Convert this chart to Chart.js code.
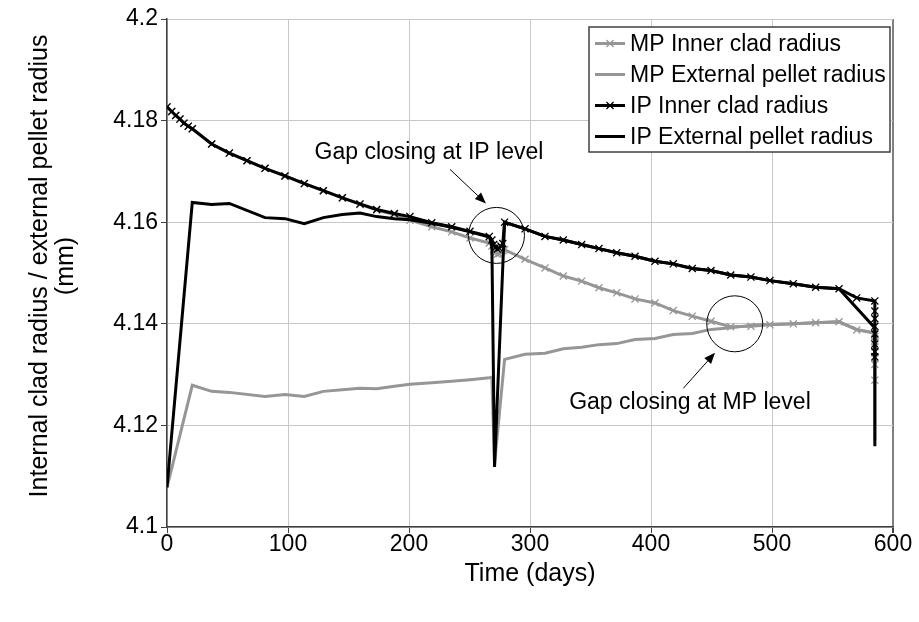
<!DOCTYPE html>
<html><head><meta charset="utf-8">
<script src="https://cdn.jsdelivr.net/npm/chart.js@4.4.0/dist/chart.umd.min.js"></script>
<style>html,body{margin:0;padding:0;background:#fff;}</style>
</head><body>
<canvas id="c" width="919" height="622"></canvas>
<script>
// ---- data ----
const seriesLabels = ['MP Inner clad radius', 'MP External pellet radius', 'IP Inner clad radius', 'IP External pellet radius'];

const xTickLabels = ['0', '100', '200', '300', '400', '500', '600'];
const yTickLabels = ['4.1', '4.12', '4.14', '4.16', '4.18', '4.2'];
const xTitle = 'Time (days)';
const yTitleLines = ['Internal clad radius / external pellet radius', '(mm)'];

// time points (days) of the clad series (with markers)
const timeClad = [0, 3.9, 7.2, 10.7, 14, 17.6, 20.9, 36.9, 51.5, 66.1, 81, 97.5, 113.5, 129.2, 144.9, 159.5, 173.3, 187.9,
  200.8, 218.8, 235.3, 250.4, 266.4, 268.5, 270, 271.5, 273, 274.5, 276, 277.5, 279,
  295.9, 312.4, 327.5, 342.7, 357, 371.7, 386.8, 403.3, 418.4, 434.1, 449.6, 465.9, 482.6, 498.3, 517.6, 536.1, 555.4, 570,
  585, 585, 585, 585, 585, 585, 585, 585];

const mpInnerClad = [4.1827, 4.1818, 4.1810, 4.1803, 4.1795, 4.1789, 4.1784, 4.1754, 4.1736, 4.1721, 4.1706, 4.1691, 4.1676, 4.1662, 4.1648, 4.1635, 4.1624, 4.1615,
  4.1604, 4.1591, 4.1581, 4.1569, 4.1559, 4.1553, 4.1546, 4.1540, 4.1537, 4.1538, 4.1541, 4.1544, 4.1546,
  4.1527, 4.1510, 4.1494, 4.1484, 4.1471, 4.1461, 4.1449, 4.1441, 4.1426, 4.1415, 4.1405, 4.1394, 4.1395, 4.1398, 4.1400, 4.1402, 4.1404, 4.1388,
  4.1382, 4.1375, 4.1365, 4.1355, 4.1345, 4.1332, 4.1320, 4.1289];

const ipInnerClad = [4.1827, 4.1818, 4.1810, 4.1803, 4.1795, 4.1789, 4.1784, 4.1754, 4.1736, 4.1721, 4.1706, 4.1691, 4.1676, 4.1662, 4.1648, 4.1636, 4.1625, 4.1617,
  4.1611, 4.1599, 4.1591, 4.1582, 4.1572, 4.1565, 4.1556, 4.1550, 4.1547, 4.1549, 4.1553, 4.1558, 4.1600,
  4.1587, 4.1572, 4.1565, 4.1556, 4.1548, 4.1540, 4.1533, 4.1523, 4.1518, 4.1509, 4.1505, 4.1496, 4.1492, 4.1485, 4.1479, 4.1472, 4.1469, 4.1451,
  4.1445, 4.1425, 4.1410, 4.1395, 4.1380, 4.1360, 4.1345, 4.1335];

// time points (days) of the pellet series (no markers)
const timeMPPellet = [0, 20.9, 36.9, 51.5, 81, 97.5, 113.5, 129.2, 144.9, 159.5, 173.3, 187.9, 200.8, 218.8, 235.3, 250.4, 266.4, 268.5, 270.7, 279,
  295.9, 312.4, 327.5, 342.7, 357, 371.7, 386.8, 403.3, 418.4, 434.1, 449.6, 465.9, 482.6, 498.3, 517.6, 536.1, 555.4, 570, 585, 585];
const mpPellet = [4.1078, 4.1279, 4.1267, 4.1265, 4.1257, 4.1261, 4.1257, 4.1267, 4.1270, 4.1273, 4.1272, 4.1277, 4.1281, 4.1284, 4.1287, 4.1290, 4.1294, 4.1295, 4.1125, 4.1330,
  4.1340, 4.1342, 4.1351, 4.1354, 4.1359, 4.1361, 4.1369, 4.1371, 4.1379, 4.1381, 4.1389, 4.1392, 4.1397, 4.1399, 4.1400, 4.1402, 4.1404, 4.1389, 4.1382, 4.1170];

const timeIPPellet = [0, 20.9, 36.9, 51.5, 81, 97.5, 113.5, 129.2, 144.9, 159.5, 173.3, 187.9, 200.8, 218.8, 235.3, 250.4, 266.4, 268.5, 270.7, 279,
  295.9, 312.4, 327.5, 342.7, 357, 371.7, 386.8, 403.3, 418.4, 434.1, 449.6, 465.9, 482.6, 498.3, 517.6, 536.1, 555.4, 585, 585];
const ipPellet = [4.1078, 4.1639, 4.1635, 4.1637, 4.1609, 4.1607, 4.1597, 4.1609, 4.1615, 4.1618, 4.1611, 4.1607, 4.1605, 4.1598, 4.1590, 4.1581, 4.1571, 4.1553, 4.1118, 4.1600,
  4.1587, 4.1572, 4.1565, 4.1556, 4.1548, 4.1540, 4.1533, 4.1523, 4.1518, 4.1509, 4.1505, 4.1496, 4.1492, 4.1485, 4.1479, 4.1472, 4.1469, 4.1392, 4.1159];

// annotations: text, text anchor (days, mm), circle centre (days, mm), arrow start / end (days, mm)
const annotationTexts = ['Gap closing at IP level', 'Gap closing at MP level'];
const annotationTextAt = [[216.5, 4.1737], [432.2, 4.1244]];
const annotationCircleAt = [[272.3, 4.1574], [469.2, 4.1400]];
const annotationArrowFrom = [[233.9, 4.1704], [426.7, 4.1273]];
const annotationArrowTo = [[263.6, 4.1637], [452.9, 4.1343]];

// ---- chart ----
const FONT = "'Liberation Sans', Arial, Helvetica, sans-serif";
const GRAY = '#969696';
const pts = (xs, ys) => xs.map((x, i) => ({x: x, y: ys[i]}));

const datasets = [
  {label: seriesLabels[0], data: pts(timeClad, mpInnerClad), borderColor: GRAY, borderWidth: 3,
   pointStyle: 'crossRot', pointRadius: 5, pointBorderColor: GRAY, pointBorderWidth: 1.3, order: 4},
  {label: seriesLabels[1], data: pts(timeMPPellet, mpPellet), borderColor: GRAY, borderWidth: 3,
   pointRadius: 0, order: 3},
  {label: seriesLabels[2], data: pts(timeClad, ipInnerClad), borderColor: '#000', borderWidth: 3,
   pointStyle: 'crossRot', pointRadius: 5, pointBorderColor: '#000', pointBorderWidth: 1.3, order: 2},
  {label: seriesLabels[3], data: pts(timeIPPellet, ipPellet), borderColor: '#000', borderWidth: 3,
   pointRadius: 0, order: 1}
];

const overlay = {
  id: 'overlay',
  afterDatasetsDraw(chart) {
    const ctx = chart.ctx, xs = chart.scales.x, ys = chart.scales.y;
    ctx.save();
    // annotations
    ctx.strokeStyle = '#000'; ctx.fillStyle = '#000'; ctx.lineWidth = 1;
    for (let i = 0; i < annotationTexts.length; i++) {
      const cx = xs.getPixelForValue(annotationCircleAt[i][0]), cy = ys.getPixelForValue(annotationCircleAt[i][1]);
      ctx.beginPath(); ctx.arc(cx, cy, 28, 0, Math.PI * 2); ctx.stroke();
      const x1 = xs.getPixelForValue(annotationArrowFrom[i][0]), y1 = ys.getPixelForValue(annotationArrowFrom[i][1]);
      const x2 = xs.getPixelForValue(annotationArrowTo[i][0]), y2 = ys.getPixelForValue(annotationArrowTo[i][1]);
      const a = Math.atan2(y2 - y1, x2 - x1), L = 11, W = 4.5;
      const bx = x2 - L * Math.cos(a), by = y2 - L * Math.sin(a);
      ctx.beginPath(); ctx.moveTo(x1, y1); ctx.lineTo(bx, by); ctx.stroke();
      ctx.beginPath(); ctx.moveTo(x2, y2);
      ctx.lineTo(bx + W * Math.sin(a), by - W * Math.cos(a));
      ctx.lineTo(bx - W * Math.sin(a), by + W * Math.cos(a));
      ctx.closePath(); ctx.fill();
      ctx.font = '23px ' + FONT; ctx.textAlign = 'center'; ctx.textBaseline = 'middle';
      ctx.fillText(annotationTexts[i], xs.getPixelForValue(annotationTextAt[i][0]), ys.getPixelForValue(annotationTextAt[i][1]));
    }
    // legend
    const lx = 589, ly = 27, lw = 301, lh = 125;
    ctx.fillStyle = '#fff'; ctx.fillRect(lx, ly, lw, lh);
    ctx.strokeStyle = '#404040'; ctx.lineWidth = 1.5; ctx.strokeRect(lx, ly, lw, lh);
    ctx.font = '23px ' + FONT; ctx.textAlign = 'left'; ctx.textBaseline = 'middle';
    chart.data.datasets.forEach((ds, i) => {
      const y = ly + 16.5 + i * 31;
      ctx.strokeStyle = ds.borderColor; ctx.lineWidth = 3;
      ctx.beginPath(); ctx.moveTo(lx + 6, y); ctx.lineTo(lx + 36, y); ctx.stroke();
      if (ds.pointRadius > 0) {
        const r = ds.pointRadius * Math.SQRT1_2;
        ctx.lineWidth = 1.3;
        ctx.beginPath();
        ctx.moveTo(lx + 21 - r, y - r); ctx.lineTo(lx + 21 + r, y + r);
        ctx.moveTo(lx + 21 - r, y + r); ctx.lineTo(lx + 21 + r, y - r);
        ctx.stroke();
      }
      ctx.fillStyle = '#000';
      ctx.fillText(ds.label, lx + 41, y + 1);
    });
    ctx.restore();
  },
  afterDraw(chart) {
    // y-axis title (two centred lines, rotated)
    const ctx = chart.ctx;
    ctx.save();
    ctx.translate(40, 266);
    ctx.rotate(-Math.PI / 2);
    ctx.font = '25px ' + FONT; ctx.fillStyle = '#000';
    ctx.textAlign = 'center'; ctx.textBaseline = 'middle';
    yTitleLines.forEach((t, i) => ctx.fillText(t, 0, i * 26));
    ctx.restore();
  }
};

new Chart(document.getElementById('c'), {
  type: 'line',
  data: {datasets: datasets},
  options: {
    responsive: false, animation: false, devicePixelRatio: 1,
    layout: {padding: {top: 19, right: 26, bottom: 0, left: 0}},
    plugins: {legend: {display: false}, tooltip: {enabled: false}},
    elements: {line: {tension: 0}},
    scales: {
      x: {
        type: 'linear', min: 0, max: 600,
        afterFit: s => { s.height = 95; },
        ticks: {stepSize: 100, color: '#000', font: {family: FONT, size: 23}, padding: -2, maxRotation: 0,
          callback: (v) => xTickLabels[Math.round(v / 100)]},
        grid: {
          color: c => (c.tick && c.tick.value === 600) ? '#808080' : '#c8c8c8',
          lineWidth: c => (c.tick && c.tick.value === 600) ? 2 : 1,
          tickColor: '#404040', tickLength: 6
        },
        border: {color: '#404040', width: 1.5},
        title: {display: true, text: xTitle, color: '#000', font: {family: FONT, size: 25}, padding: {top: 0, bottom: 33}}
      },
      y: {
        type: 'linear', min: 4.1, max: 4.2,
        afterFit: s => { s.width = 167; },
        afterBuildTicks: s => { s.ticks = yTickLabels.map(t => ({value: parseFloat(t)})); },
        ticks: {color: '#000', font: {family: FONT, size: 23}, padding: 3,
          callback: (v) => yTickLabels[Math.round((v - 4.1) / 0.02)]},
        grid: {color: '#c8c8c8', lineWidth: 1, tickColor: '#404040', tickLength: 6},
        border: {color: '#404040', width: 1.5},
        title: {display: false}
      }
    }
  },
  plugins: [overlay]
});
</script>
</body></html>
